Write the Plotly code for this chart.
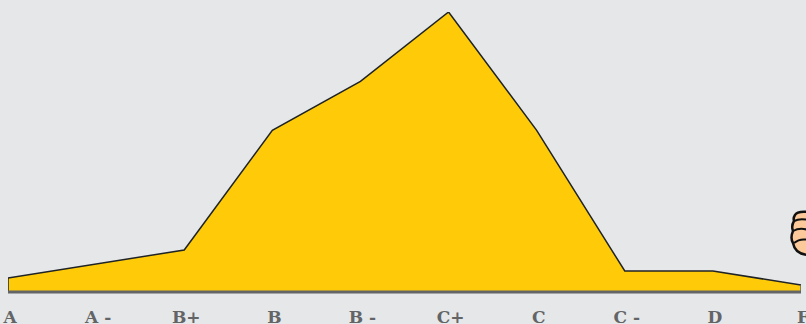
import plotly.graph_objects as go

grades = ["A", "A -", "B+", "B", "B -", "C+", "C", "C -", "D", "F"]
counts = [2, 4, 6, 23.1, 30.1, 40, 23.1, 3, 3, 1]

W, H = 806, 324
L, R, T, B = 8, 5, 12, 30
PX_PER_UNIT = 7
INK = "#1f2326"
GREY = "#636466"


def fist(points):
    """Turn pixel-authored decoration into paper coordinates (fist is an illustration, not data)."""
    out = []
    for tok in points.split():
        if tok.isalpha():
            out.append(tok)
        else:
            px, py = tok.split(",")
            out.append(f"{(float(px) - L) / (W - L - R):.5f},{(H - B - float(py)) / (H - T - B):.5f}")
    return " ".join(out)


fig = go.Figure()
fig.add_trace(go.Scatter(
    x=grades, y=counts, mode="lines", fill="tozeroy",
    fillcolor="#FFCB08", line=dict(color=INK, width=1.5),
    hoverinfo="skip", cliponaxis=False,
))
fig.update_layout(
    width=W, height=H, autosize=False,
    margin=dict(l=L, r=R, t=T, b=B),
    paper_bgcolor="#E5E7E9", plot_bgcolor="#E5E7E9",
    showlegend=False,
    xaxis=dict(type="category", range=[0, 9], showgrid=False, zeroline=False,
               showline=False, ticks="", ticklabelstandoff=11, ticklabelshift=2,
               tickfont=dict(family="DejaVu Serif", size=17, color=GREY, weight="bold"),
               tickangle=0, automargin=False),
    yaxis=dict(range=[-2 / PX_PER_UNIT, 40], visible=False, fixedrange=True),
    shapes=[
        dict(type="line", xref="x", yref="y", x0=0, x1=0, y0=0, y1=2,
             line=dict(color=INK, width=1.5)),
        dict(type="line", xref="x", yref="y", x0=9, x1=9, y0=0, y1=1,
             line=dict(color=GREY, width=1.5)),
        dict(type="line", xref="paper", yref="y", x0=0, x1=1, y0=0, y1=0,
             line=dict(color=GREY, width=3)),
        dict(type="path", xref="paper", yref="paper", layer="above",
             path=fist("M 808,212 Q 797,211 795,215 Q 793,218 794,221 Q 791,226 793,231 Q 790,238 793,243 Q 795,254 808,255 Z"),
             fillcolor="#FBC99A", line=dict(color="#111111", width=2.5)),
        dict(type="path", xref="paper", yref="paper", layer="above",
             path=fist("M 794,221 Q 800,218 808,220"), line=dict(color="#111111", width=2)),
        dict(type="path", xref="paper", yref="paper", layer="above",
             path=fist("M 793,231 Q 800,227 808,230"), line=dict(color="#111111", width=2)),
        dict(type="path", xref="paper", yref="paper", layer="above",
             path=fist("M 794,243 Q 800,238 808,240"), line=dict(color="#111111", width=2)),
    ],
)
fig.write_html(
    "out.html",
    config=dict(displayModeBar=False),
    post_script="document.documentElement.style.background='#E5E7E9';"
                "document.body.style.margin='0';document.body.style.background='#E5E7E9';"
                "document.body.style.overflow='hidden';",
)
